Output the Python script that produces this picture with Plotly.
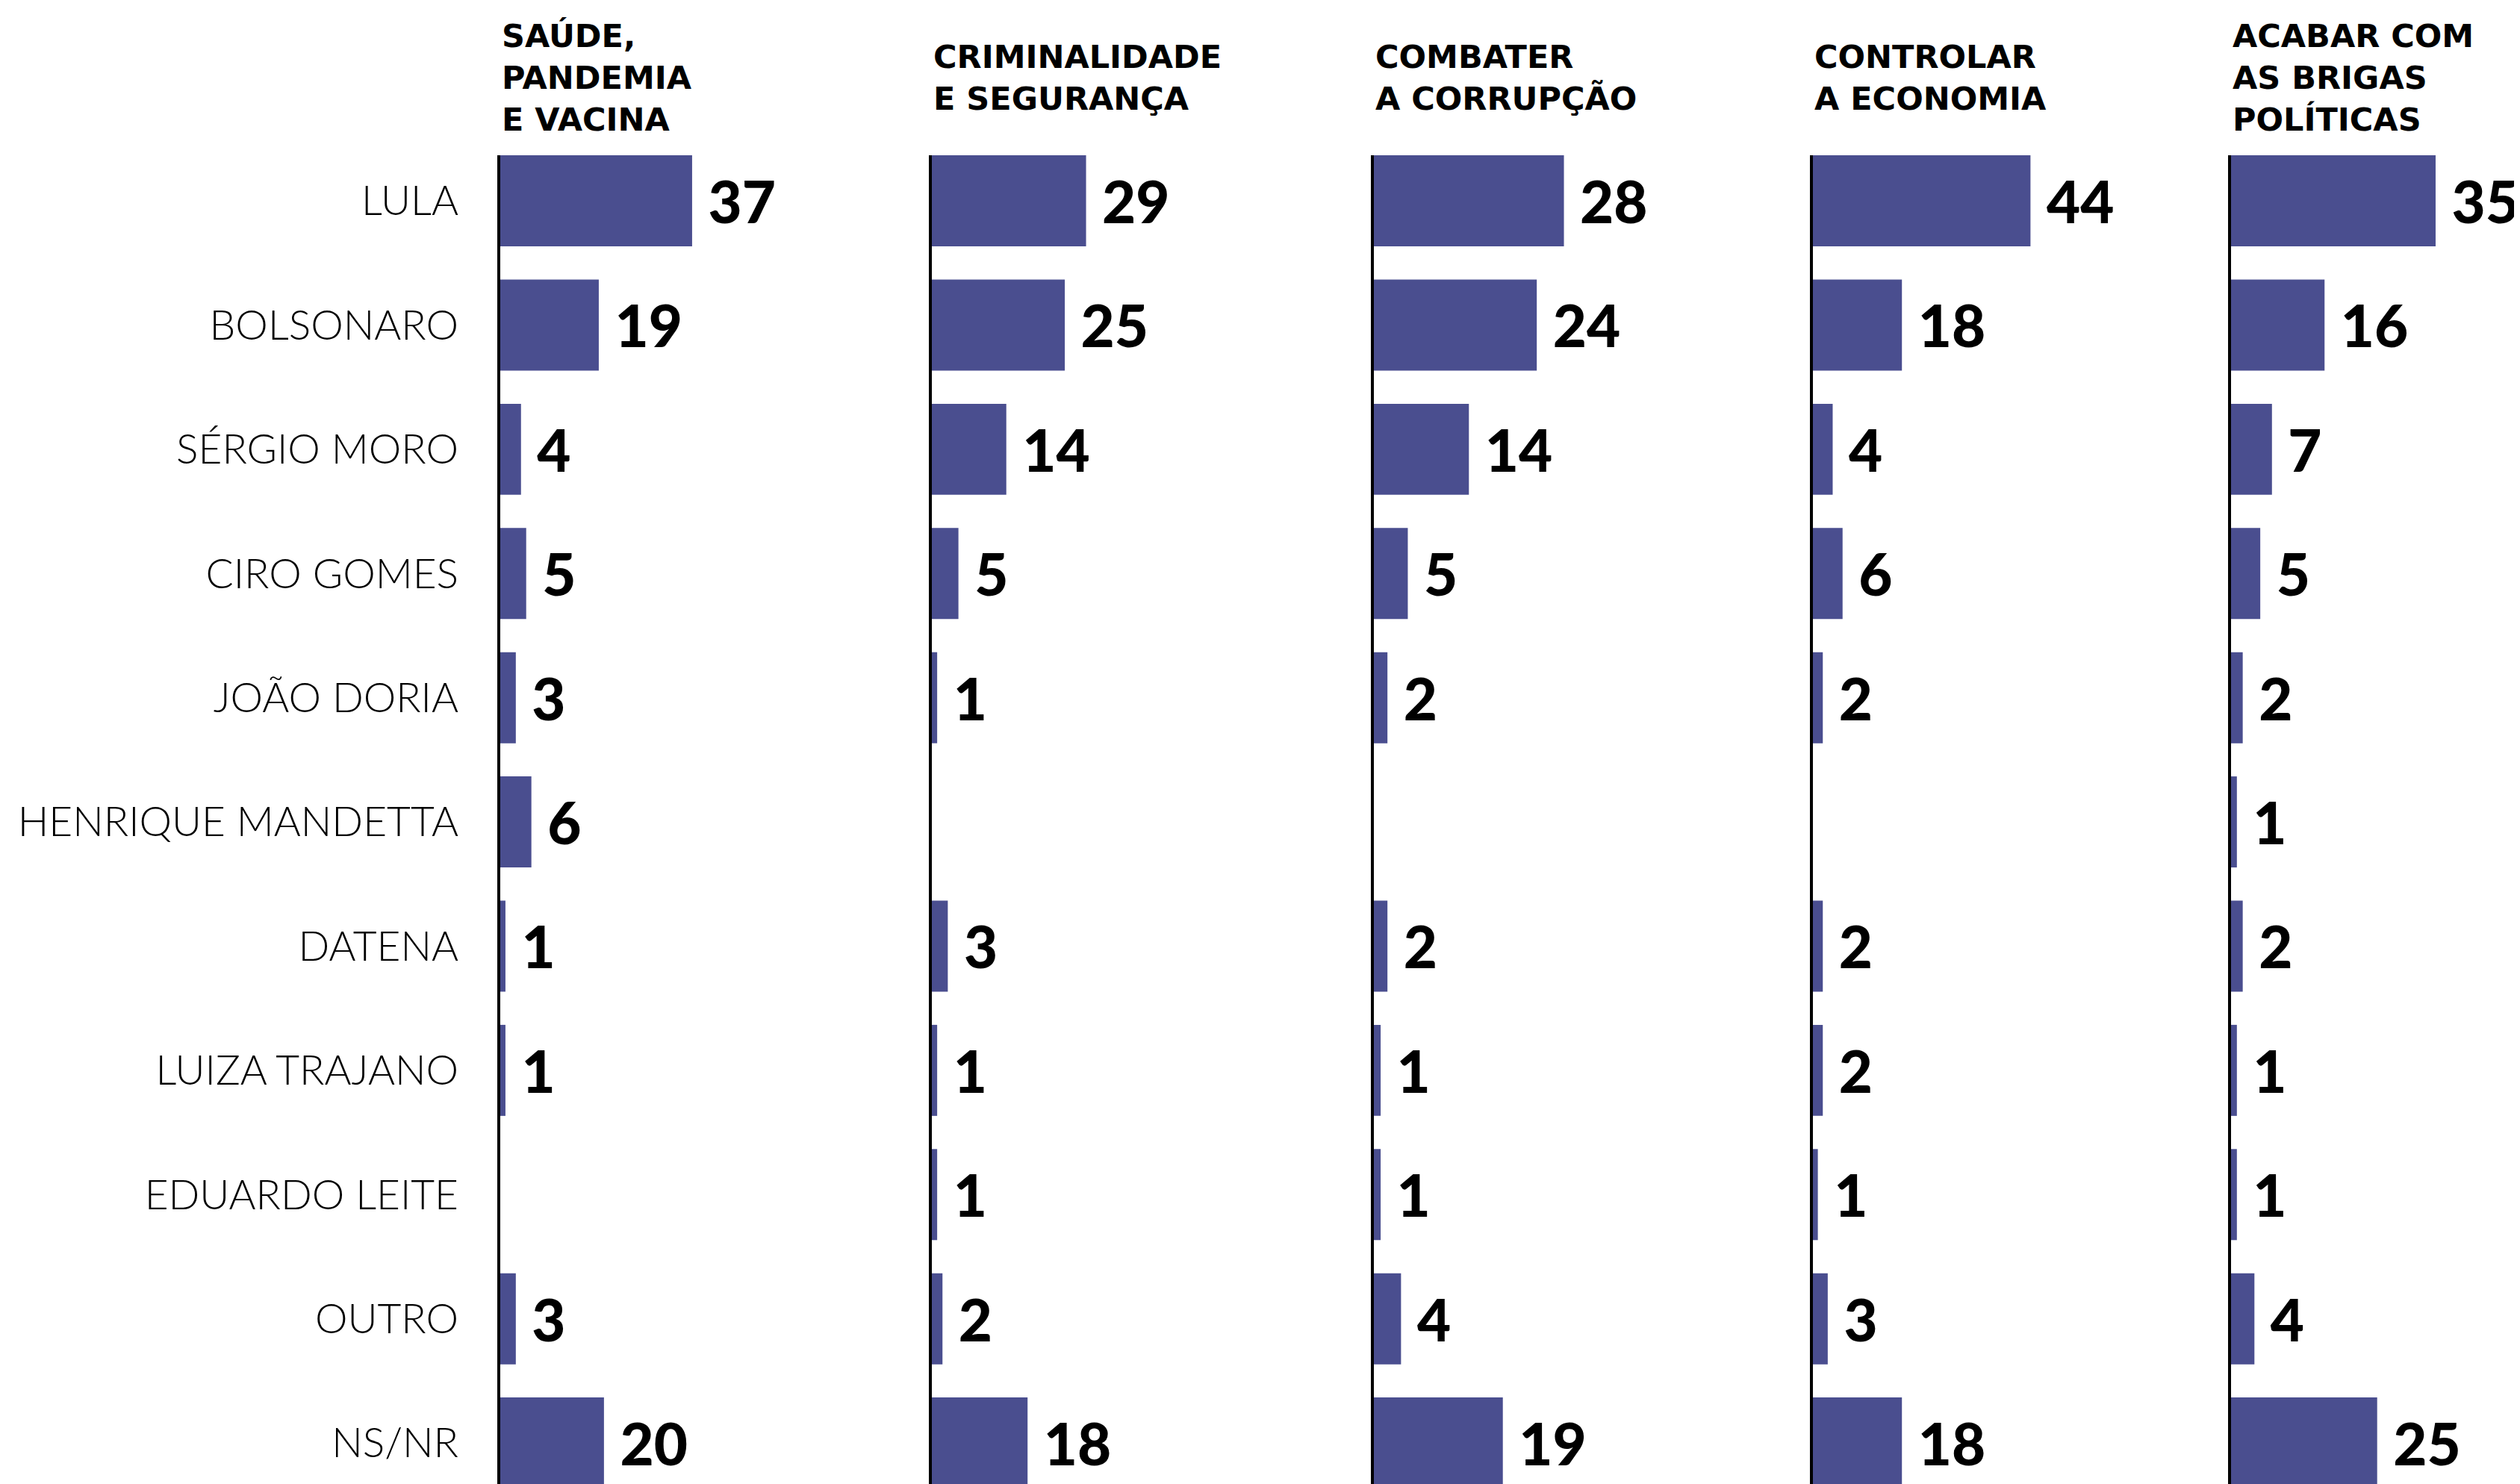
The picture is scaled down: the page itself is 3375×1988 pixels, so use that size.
import plotly.graph_objects as go

# ---- data ----
candidates = ["LULA", "BOLSONARO", "SÉRGIO MORO", "CIRO GOMES", "JOÃO DORIA",
              "HENRIQUE MANDETTA", "DATENA", "LUIZA TRAJANO", "EDUARDO LEITE",
              "OUTRO", "NS/NR"]
titles = ["SAÚDE,<br>PANDEMIA<br>E VACINA",
          "CRIMINALIDADE<br>E SEGURANÇA",
          "COMBATER<br>A CORRUPÇÃO",
          "CONTROLAR<br>A ECONOMIA",
          "ACABAR COM<br>AS BRIGAS<br>POLÍTICAS"]
saude = [37, 19, 4, 5, 3, 6, 1, 1, None, 3, 20]
criminalidade = [29, 25, 14, 5, 1, None, 3, 1, 1, 2, 18]
corrupcao = [28, 24, 14, 5, 2, None, 2, 1, 1, 4, 19]
economia = [44, 18, 4, 6, 2, None, 2, 2, 1, 3, 18]
brigas = [35, 16, 7, 5, 2, 1, 2, 1, 1, 4, 25]
series = [saude, criminalidade, corrupcao, economia, brigas]

# ---- layout parameters ----
OFF = 8                      # page body margin
W, H = 3375 - OFF, 1988 - OFF
TOP = 208 - OFF
axis_px = [p - OFF + 3 for p in [667, 1245, 1837, 2425, 2985]]
panel_w = [500, 500, 500, 500, 382]
x_max = [72.0, 70.2, 55.0, 75.5, 48.8]
BAR = "#4a4e8f"

fig = go.Figure()
for i, vals in enumerate(series):
    n = i + 1
    sx = "" if n == 1 else str(n)
    fig.add_trace(go.Bar(
        x=vals, y=candidates, orientation="h",
        marker=dict(color=BAR, line=dict(width=0)),
        texttemplate="\u00a0%{x}", textposition="outside",
        textfont=dict(family="Lato", size=78, color="black", weight=900),
        cliponaxis=False, constraintext="none",
        xaxis=f"x{sx}", yaxis=f"y{sx}", hoverinfo="skip", showlegend=False,
    ))
    xa = dict(domain=[axis_px[i] / W, (axis_px[i] + panel_w[i]) / W],
              range=[0, x_max[i]], visible=False, anchor=f"y{sx}", fixedrange=True)
    ya = dict(anchor=f"x{sx}", type="category", categoryorder="array",
              categoryarray=candidates, range=[10.33, -0.367],
              showline=True, linecolor="black", linewidth=4,
              showgrid=False, zeroline=False, ticks="", fixedrange=True,
              showticklabels=(i == 0))
    if i == 0:
        ya.update(tickfont=dict(family="Lato", size=55, color="black", weight=300),
                  ticklabelstandoff=41)
    fig.layout[f"xaxis{sx}"] = xa
    fig.layout[f"yaxis{sx}"] = ya
    fig.add_annotation(
        text=titles[i], xref=f"x{sx} domain", x=0, xanchor="left",
        yref="paper", y=1 + (TOP - (104 - OFF)) / (H - TOP), yanchor="middle",
        align="left", showarrow=False,
        font=dict(family="DejaVu Sans", size=43, color="black", weight=700),
    )

fig.update_layout(
    width=W, height=H, bargap=0.267,
    margin=dict(l=0, r=0, t=TOP, b=0, pad=0),
    paper_bgcolor="white", plot_bgcolor="white",
)
fig.write_html("out.html")
